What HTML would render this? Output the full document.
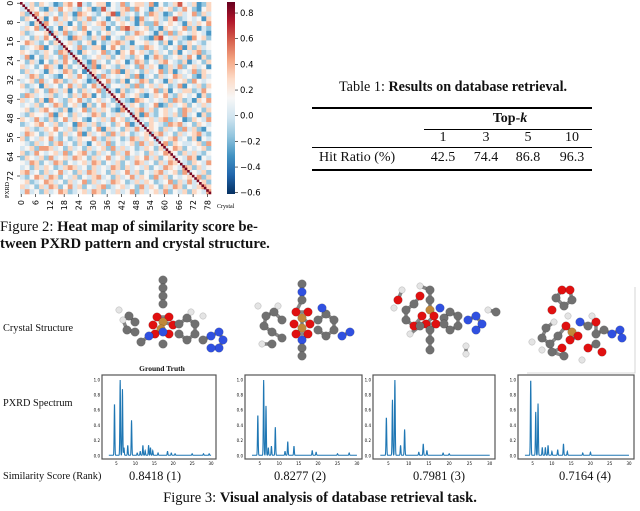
<!DOCTYPE html>
<html><head><meta charset="utf-8">
<style>
body{margin:0;width:640px;height:511px;background:#fff;overflow:hidden;font-family:"Liberation Serif",serif;color:#111;position:relative}
.a{position:absolute;white-space:nowrap}
svg{position:absolute;left:0;top:0}
.t{font-size:14px}
</style></head>
<body>
<svg id="s" width="640" height="511"></svg>
<div class="a" style="left:0;top:219px;font-size:14.7px;line-height:17px">Figure 2: <b>Heat map of similarity score be-<br>tween PXRD pattern and crystal structure.</b></div>
<div class="a" style="left:339px;top:79px;font-size:14.2px">Table 1: <b>Results on database retrieval.</b></div>
<div class="a" style="left:312px;top:107px;width:280px;height:2px;background:#000"></div>
<div class="a t" style="left:470px;top:111px;width:80px;text-align:center;font-weight:bold">Top-<i>k</i></div>
<div class="a" style="left:424px;top:129px;width:168px;height:1px;background:#000"></div>
<div class="a t" style="left:423px;top:130px;width:40px;text-align:center">1</div>
<div class="a t" style="left:466px;top:130px;width:40px;text-align:center">3</div>
<div class="a t" style="left:508px;top:130px;width:40px;text-align:center">5</div>
<div class="a t" style="left:552px;top:130px;width:40px;text-align:center">10</div>
<div class="a" style="left:312px;top:147px;width:280px;height:1px;background:#000"></div>
<div class="a t" style="left:319px;top:150px">Hit Ratio (%)</div>
<div class="a t" style="left:423px;top:150px;width:40px;text-align:center">42.5</div>
<div class="a t" style="left:466px;top:150px;width:40px;text-align:center">74.4</div>
<div class="a t" style="left:508px;top:150px;width:40px;text-align:center">86.8</div>
<div class="a t" style="left:552px;top:150px;width:40px;text-align:center">96.3</div>
<div class="a" style="left:312px;top:169px;width:280px;height:2px;background:#000"></div>

<div class="a" style="left:3px;top:323px;font-size:10.3px">Crystal Structure</div>
<div class="a" style="left:3px;top:398px;font-size:10.3px">PXRD Spectrum</div>
<div class="a" style="left:3px;top:471px;font-size:10.3px">Similarity Score (Rank)</div>
<div class="a" style="left:112px;top:364px;width:100px;text-align:center;font-size:7.5px;font-weight:bold">Ground Truth</div>
<div class="a" style="left:105px;top:469px;width:100px;text-align:center;font-size:12.5px">0.8418 (1)</div>
<div class="a" style="left:250px;top:469px;width:100px;text-align:center;font-size:12.5px">0.8277 (2)</div>
<div class="a" style="left:389px;top:469px;width:100px;text-align:center;font-size:12.5px">0.7981 (3)</div>
<div class="a" style="left:535px;top:469px;width:100px;text-align:center;font-size:12.5px">0.7164 (4)</div>
<div class="a" style="left:0;top:490px;width:640px;text-align:center;font-size:14.6px">Figure 3: <b>Visual analysis of database retrieval task.</b></div>

<script>
// heatmap data: digit d -> value -0.45 + d*0.15
const heatRows = [
"4352543125647324551436245536142357435125",
"3454215364532451273435626431354523642145",
"5236453425316543245715342426531245346253",
"2543514635425362431453251634532572343415",
"4315264353142534563245431522634543153546",
"3546232415452643351426753452315434625132",
"5234451536234514245344236543152625435431",
"3425364243165325361432554321674353216452",
"4653242534532451423565314453425142354324",
"2345614325436235514642353265432436152534",
"5432354265231543462315464532534251435623",
"3614253426354234535245325413652345364152",
"4253142536425316342454136524356432513425",
"5342465315243526154325342635412536245341",
"2534315436524135432561534253462513436254",
"4365243214536425263434526134253465342153",
"3452634652354312546325143652431534526434",
"5234153424635246352443526245354236143525",
"4325426535142534625315234534625143552364",
"2653435234253651423546345213546325434152",
"5342516432546324534253216543435265231546",
"3435243652453152463425354234612534524353",
"4523564325134625354216435635245342653425",
"3254436154253436524353425163245352634152",
"5436325246354214353645235345356234125436",
"2345643523416535234254613425432656342543",
"4532354643525324615342536345425342635214",
"3654235425346153452635423452563425345632",
"5243546324235446325342365354234563425143",
"4325342563425314536243452635346254334526",
"3452665342534253452635342354253465243452",
"5236434536245632534253643425346542535324",
"2543526345365425346345235463524534365143",
"4365243652434536524352436534253654325436",
"3425354235653425343652534352436543652534",
"5634253463425365342534635243563452634352",
"3246536524352435634253463542635243454625",
"4523465342534625343654235354234625363452",
"5342536524635243562345342635425365243565",
"3634253465234536524353462534536243525436"
];
const diagonal = Array(80).fill(0.85);
const yTicks = [0,8,16,24,32,40,48,56,64,72];
const xTicks = [0,6,12,18,24,30,36,42,48,54,60,66,72,78];
const cbTicks = [0.8,0.6,0.4,0.2,0.0,-0.2,-0.4,-0.6];

// spectra peaks [position, height]
const spec1Pos=[4.5,6,6.6,7,8,9,10.5,11.3,12,12.6,13.5,14,14.6,16,18.5,19.5,20.5,25,28,29.5];
const spec1H=[0.68,1.0,0.87,0.1,0.13,0.46,0.03,0.05,0.13,0.06,0.13,0.1,0.06,0.03,0.05,0.03,0.02,0.02,0.02,0.02];
const spec2Pos=[4.5,6,6.6,7.2,8,9,11.5,12.2,13.8,18.5,19.5,25,28];
const spec2H=[0.53,1.0,0.65,0.1,0.12,0.37,0.05,0.18,0.12,0.06,0.04,0.02,0.03];
const spec3Pos=[4.5,6,6.6,8,9,12.5,13.6,14.5,18.5,20];
const spec3H=[0.5,0.73,1.0,0.13,0.34,0.04,0.15,0.06,0.03,0.02];
const spec4Pos=[4.5,5.8,6.4,7.5,8.3,9,10,11.5,13,14,18,20];
const spec4H=[1.0,0.57,0.68,0.1,0.1,0.13,0.05,0.07,0.15,0.05,0.03,0.04];

const NS="http://www.w3.org/2000/svg";
const svg=document.getElementById('s');
function mk(t,a,p){const e=document.createElementNS(NS,t);for(const k in a)e.setAttribute(k,a[k]);(p||svg).appendChild(e);return e;}

const stops=["#053061","#2166ac","#4393c3","#92c5de","#d1e5f0","#f7f7f7","#fddbc7","#f4a582","#d6604d","#b2182b","#67001f"];
const vmin=-0.61,vmax=0.886;
function hx(c){return [parseInt(c.slice(1,3),16),parseInt(c.slice(3,5),16),parseInt(c.slice(5,7),16)];}
function cmap(v){let t=(v-vmin)/(vmax-vmin);t=Math.max(0,Math.min(1,t))*10;const i=Math.min(9,Math.floor(t)),f=t-i;const a=hx(stops[i]),b=hx(stops[i+1]);return `rgb(${a.map((x,k)=>Math.round(x+(b[k]-x)*f)).join(',')})`;}

// heatmap
const HX0=20,HY0=2,HW=191,HH=192,N=heatRows.length;
const cw=HW/N,ch=HH/N;
const hg=mk('g',{});


heatRows.forEach((row,r)=>{for(let c=0;c<N;c++){
  const v=-0.45+(+row[c])*0.15;
  const rc=mk('rect',{x:HX0+c*cw,y:HY0+r*ch,width:cw+0.3,height:ch+0.3,fill:cmap(v)},hg);
  
  
}});
const dw=HW/diagonal.length,dh=HH/diagonal.length;
diagonal.forEach((v,i)=>{
  const rc=mk('rect',{x:HX0+i*dw,y:HY0+i*dh,width:dw+0.2,height:dh+0.2,fill:cmap(v)},hg);
  
  
});
yTicks.forEach(t=>{const y=HY0+(t+0.5)*dh;
  mk('line',{x1:HX0-3,x2:HX0,y1:y,y2:y,stroke:'#000','stroke-width':0.6});
  const tx=mk('text',{x:10,y:y,'font-size':8,'font-family':'DejaVu Sans','text-anchor':'middle',transform:`rotate(-90 10 ${y})`,dy:3});tx.textContent=t;
  });
xTicks.forEach(t=>{const x=HX0+(t+0.5)*dw;
  mk('line',{x1:x,x2:x,y1:HY0+HH,y2:HY0+HH+3,stroke:'#000','stroke-width':0.6});
  const tx=mk('text',{x:x,y:200,'font-size':8,'font-family':'DejaVu Sans','text-anchor':'end',transform:`rotate(-90 ${x} 200)`,dy:3});tx.textContent=t;
  });
let e=mk('text',{x:9,y:190,'font-size':6,'text-anchor':'middle',transform:'rotate(-90 9 190)','font-family':'Liberation Serif'});e.textContent='PXRD';

e=mk('text',{x:217,y:208,'font-size':6,'font-family':'Liberation Serif'});e.textContent='Crystal';


// colorbar
const CX=227,CW=8;
const grad=mk('linearGradient',{id:'cg',x1:0,y1:1,x2:0,y2:0},mk('defs',{}));
stops.forEach((c,i)=>mk('stop',{offset:i/10,'stop-color':c},grad));
e=mk('rect',{x:CX,y:HY0,width:CW,height:HH,fill:'url(#cg)'});

const cy=v=>HY0+HH*(vmax-v)/(vmax-vmin);
cbTicks.forEach(t=>{const y=cy(t);mk('line',{x1:CX+CW,x2:CX+CW+3,y1:y,y2:y,stroke:'#000','stroke-width':0.6});
  const tx=mk('text',{x:CX+CW+5,y:y+3,'font-size':8.5,'font-family':'DejaVu Sans'});tx.textContent=(t<0?'\u2212':'')+Math.abs(t).toFixed(1);
  });

// spectra
const boxes=[[102,216],[245,362],[373,495],[518,634]];
const specs=[[spec1Pos,spec1H],[spec2Pos,spec2H],[spec3Pos,spec3H],[spec4Pos,spec4H]];
const BY0=375,BY1=459;
specs.forEach((s,k)=>{const [L,R]=boxes[k];
  const sx=x=>L+(R-L)*(x-1.2)/(31.3-1.2);
  const sy=y=>456-76*y;
  const g=mk('g',{});
  mk('rect',{x:L,y:BY0,width:R-L,height:BY1-BY0,fill:'none',stroke:'#555','stroke-width':1.2},g);
  let d='';for(let x=3;x<=30;x+=0.04){let y=0.01;s[0].forEach((p,i)=>{y+=s[1][i]*Math.exp(-Math.pow((x-p)/0.12,2));});d+=(d?'L':'M')+sx(x).toFixed(2)+' '+sy(Math.min(y,1)).toFixed(2);}
  const ln=mk('path',{d:d,fill:'none',stroke:'#1f77b4','stroke-width':1.1},g);
  
  [0,0.2,0.4,0.6,0.8,1.0].forEach(t=>{const tx=mk('text',{x:L-2,y:sy(t)+1.3,'font-size':4,'text-anchor':'end','font-family':'DejaVu Sans'},g);tx.textContent=t.toFixed(1);});
  [5,10,15,20,25,30].forEach(t=>{const tx=mk('text',{x:sx(t),y:BY1+6,'font-size':4,'text-anchor':'middle','font-family':'DejaVu Sans'},g);tx.textContent=t;});
});

// molecules (decorative)
const mols=[
 {cx:163,cy:322,atoms:[[0,-42,'g'],[0,-34,'g'],[0,-26,'g'],[0,-18,'g'],[-6,-5,'r'],[6,-5,'r'],[-10,3,'r'],[10,3,'r'],[0,0,'o'],[-2,7,'o'],[-8,12,'r'],[6,12,'r'],[0,10,'b'],[-14,14,'b'],[-22,20,'g'],[0,22,'g'],[-28,0,'g'],[-34,-6,'g'],[-40,-2,'w'],[-36,8,'g'],[-28,10,'g'],[16,2,'g'],[24,-4,'g'],[32,2,'g'],[32,12,'g'],[24,18,'g'],[16,12,'g'],[40,-6,'w'],[40,18,'g'],[48,14,'b'],[56,10,'b'],[60,18,'b'],[56,26,'b'],[48,26,'b'],[-44,-12,'w'],[28,-10,'w']]},
 {cx:302,cy:320,atoms:[[0,-36,'g'],[0,-28,'b'],[0,-20,'g'],[-6,-8,'r'],[6,-8,'r'],[-8,4,'r'],[8,4,'r'],[0,-2,'o'],[0,8,'o'],[-6,14,'r'],[6,14,'r'],[0,20,'b'],[0,28,'g'],[0,36,'g'],[-20,0,'g'],[-28,-8,'g'],[-36,-4,'g'],[-38,6,'g'],[-30,12,'g'],[-20,18,'g'],[-44,-14,'w'],[16,0,'g'],[24,-6,'g'],[32,0,'g'],[32,10,'g'],[24,16,'g'],[16,10,'g'],[20,-12,'b'],[40,16,'b'],[48,12,'b'],[-30,24,'g'],[-40,24,'w'],[-24,-14,'w']]},
 {cx:430,cy:320,atoms:[[-10,-24,'r'],[-16,-16,'g'],[-24,-10,'g'],[-24,0,'g'],[-16,6,'r'],[-8,-4,'r'],[-32,-20,'r'],[-28,-30,'w'],[-10,-34,'w'],[0,-30,'g'],[0,-20,'g'],[0,-10,'o'],[4,-4,'r'],[-4,4,'r'],[6,4,'r'],[0,10,'g'],[0,20,'g'],[0,30,'g'],[-10,6,'g'],[-20,14,'w'],[14,-2,'g'],[20,-8,'g'],[28,-4,'g'],[28,6,'g'],[20,10,'g'],[14,4,'g'],[38,0,'b'],[46,-4,'b'],[52,4,'b'],[46,10,'b'],[58,-10,'w'],[66,-8,'g'],[36,26,'w'],[36,34,'w'],[-36,-12,'w'],[10,-12,'b']]},
 {cx:572,cy:326,atoms:[[-10,-36,'r'],[-16,-28,'g'],[-8,-20,'g'],[0,-26,'g'],[-2,-36,'r'],[-20,-16,'r'],[-4,-10,'w'],[-18,-4,'w'],[-26,2,'g'],[-30,12,'g'],[-22,18,'g'],[-14,10,'g'],[-6,0,'r'],[0,6,'o'],[-2,14,'r'],[6,10,'r'],[8,-4,'b'],[16,0,'g'],[24,-4,'r'],[24,8,'g'],[32,4,'g'],[40,8,'b'],[48,4,'b'],[50,12,'b'],[24,18,'g'],[16,22,'r'],[30,26,'r'],[-10,22,'r'],[-20,26,'g'],[-8,30,'g'],[-30,24,'w'],[10,34,'w'],[-40,16,'w'],[20,-10,'w']]}
];
const col={g:'#707070',r:'#e01010',b:'#3050e0',w:'#e4e4e4',o:'#c0883a'};
mols.forEach((m,k)=>{const g=mk('g',{});
  for(let i=1;i<m.atoms.length;i++){const a=m.atoms[i-1],b=m.atoms[i];if(Math.hypot(a[0]-b[0],a[1]-b[1])<14)mk('line',{x1:m.cx+a[0],y1:m.cy+a[1],x2:m.cx+b[0],y2:m.cy+b[1],stroke:'#888','stroke-width':3.5},g);}
  m.atoms.forEach(a=>mk('circle',{cx:m.cx+a[0],cy:m.cy+a[1],r:a[2]==='w'?3.2:4.3,fill:col[a[2]],stroke:'rgba(0,0,0,0.25)','stroke-width':0.5},g));});
e=mk('path',{d:'M527 373 L635 373 L635 287',fill:'none',stroke:'#ccc','stroke-width':0.8});

</script>
</body></html>
